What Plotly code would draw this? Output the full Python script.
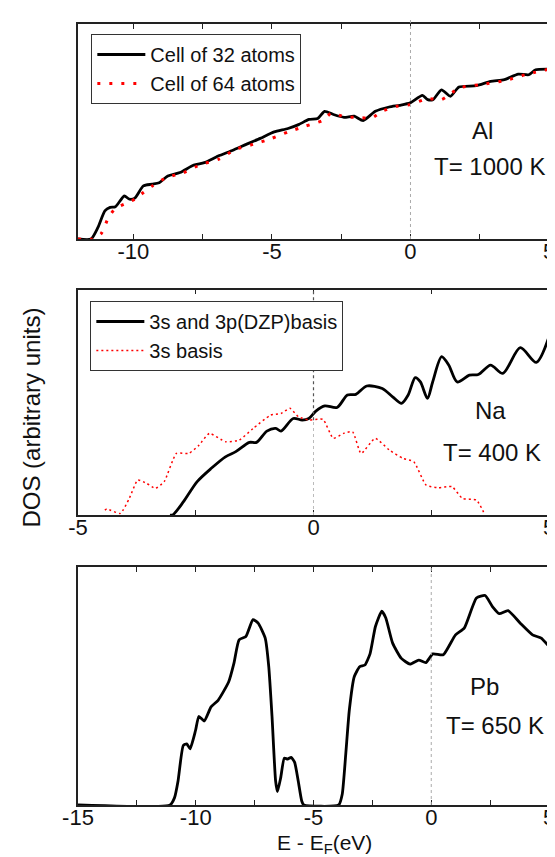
import plotly.graph_objects as go

# ---------------- data (arbitrary DOS units 0-100) -------------
al32_e = [-12.0, -11.53, -11.28, -11.03, -10.84, -10.65, -10.33, -10.14, -9.95, -9.64, -9.32, -9.07,
          -8.76, -8.32, -7.82, -7.44, -6.94, -6.43, -5.93, -5.42, -4.92, -4.42, -4.04, -3.66, -3.35,
          -3.1, -2.78, -2.4, -2.03, -1.71, -1.27, -0.77, -0.39, -0.01, 0.43, 0.62, 0.81, 1.12, 1.44,
          1.75, 2.38, 2.89, 3.39, 3.89, 4.27, 4.52, 5.0]
al32_dos = [0, 0, 5.4, 13.1, 14.7, 15.0, 20.0, 18.5, 19.0, 24.7, 25.5, 26.2,
            29.3, 30.9, 34.4, 35.5, 38.6, 41.2, 44.0, 46.8, 49.8, 51.4, 53.2, 55.6, 56.0,
            59.4, 57.9, 56.6, 57.1, 55.1, 59.4, 61.4, 62.2, 63.3, 66.8, 64.8, 64.8, 69.4, 66.4,
            70.7, 71.3, 73.3, 74.1, 76.7, 76.4, 78.7, 79.0]

al64_e = [-12.0, -11.47, -11.16, -10.9, -10.65, -10.33, -9.95, -9.64, -9.32, -8.82, -8.19, -7.56,
          -6.94, -6.31, -5.68, -5.05, -4.42, -3.79, -3.16, -2.85, -2.4, -1.9, -1.4, -1.02, -0.52,
          -0.01, 0.62, 1.12, 1.75, 2.51, 3.39, 4.14, 5.0]
al64_dos = [0, 0, 2.6, 10.0, 14.2, 16.2, 18.5, 21.6, 24.7, 28.5, 30.9, 34.7,
            37.0, 41.7, 44.0, 46.6, 49.8, 52.5, 55.2, 58.6, 56.8, 56.6, 56.3, 59.4, 61.7,
            62.5, 65.3, 64.8, 70.2, 71.8, 73.6, 76.4, 79.0]

na_dzp_e = [-3.05, -2.99, -2.76, -2.47, -2.17, -1.87, -1.65, -1.36, -1.21, -0.99, -0.8, -0.69, -0.43,
            -0.24, -0.1, 0.05, 0.24, 0.5, 0.72, 0.9, 1.13, 1.46, 1.68, 1.87, 2.01, 2.16, 2.27,
            2.42, 2.53, 2.72, 2.87, 3.05, 3.31, 3.5, 3.76, 4.02, 4.39, 4.73, 5.0]
na_dzp_dos = [0, 0, 5.9, 14.8, 20.7, 25.8, 28.1, 32.2, 32.2, 37.2, 38.4, 37.2, 42.8,
              42.1, 42.8, 46.1, 48.4, 47.7, 53.2, 53.5, 57.2, 56.1, 52.4, 49.5, 53.2, 60.9, 59.0,
              51.7, 59.0, 70.2, 66.5, 59.0, 62.0, 62.3, 66.5, 62.8, 74.2, 67.7, 79.0]

na_3s_e = [-4.43, -4.39, -4.1, -3.91, -3.73, -3.54, -3.36, -3.17, -2.91, -2.65, -2.43, -2.21, -1.87,
           -1.58, -1.28, -0.91, -0.69, -0.5, -0.32, -0.1, 0.2, 0.42, 0.64, 0.83, 1.01, 1.31, 1.61,
           1.9, 2.13, 2.39, 2.64, 2.94, 3.16, 3.46, 3.64]
na_3s_dos = [2.2, 2.7, 0.7, 7.4, 15.5, 14.0, 11.8, 14.8, 27.3, 27.3, 31.0, 36.2, 32.5,
             33.2, 38.4, 44.3, 45.0, 47.3, 43.6, 42.1, 42.4, 34.0, 36.2, 36.9, 27.3, 34.0, 28.8,
             25.1, 23.6, 13.3, 12.1, 12.6, 7.4, 6.6, 0.0]

pb_e = [-15.0, -11.09, -10.9, -10.75, -10.53, -10.38, -10.24, -10.01, -9.87, -9.64, -9.35, -9.05,
        -8.6, -8.38, -8.16, -7.87, -7.57, -7.35, -7.05, -6.9, -6.76, -6.61, -6.53, -6.39, -6.24,
        -6.1, -5.95, -5.8, -5.65, -5.5, -5.41, -3.93, -3.78, -3.63, -3.48, -3.27, -3.04, -2.82,
        -2.6, -2.37, -2.1, -1.93, -1.64, -1.27, -0.9, -0.53, -0.23, 0.07, 0.51, 1.03, 1.4, 1.92,
        2.29, 2.59, 2.89, 3.26, 3.78, 4.3, 4.67, 5.0]
pb_dos = [0, 0, 3.1, 10.2, 25.0, 25.7, 23.6, 31.3, 37.2, 35.3, 41.2, 44.0,
          51.8, 59.5, 69.4, 70.8, 77.9, 76.4, 70.1, 58.1, 37.0, 10.2, 5.6, 11.6, 19.7,
          19.3, 20.0, 17.9, 10.2, 1.7, 0, 0, 4.5, 21.4, 39.8, 53.9, 58.1, 58.8,
          63.5, 75.0, 81.4, 78.6, 68.0, 61.6, 59.2, 60.9, 59.8, 63.5, 63.1, 71.5, 74.3, 87.0,
          88.0, 83.5, 80.4, 81.7, 76.4, 71.5, 70.1, 66.6]

# labelled ticks and unlabelled (minor) ticks per panel
major_1, labels_1, minor_1 = [-10, -5, 0, 5], ["-10", "-5", "0", "5"], [-7.5, -2.5, 2.5]
major_2, labels_2, minor_2 = [-5, 0, 5], ["-5", "0", "5"], [-2.5, 2.5]
major_3, labels_3, minor_3 = [-15, -10, -5, 0, 5], ["-15", "-10", "-5", "0", "5"], [-12.5, -7.5, -2.5, 2.5]

# ---------------- layout helpers ----------------
W, H = 555, 857
L, R, T, B = 70, 8, 16, 60
PW, PH = W - L - R, H - T - B


def px(xp):
    return (xp - L) / PW


def py(yp):
    return (H - B - yp) / PH


FONT = "Liberation Sans, Arial, sans-serif"
AX = "#222222"
TXT = "#111111"

fig = go.Figure()

fig.add_trace(go.Scatter(x=al32_e, y=al32_dos, mode="lines", name="Cell of 32 atoms",
                         line=dict(color="black", width=2.8, shape="spline", smoothing=0.6),
                         xaxis="x", yaxis="y", legend="legend"))
fig.add_trace(go.Scatter(x=al64_e, y=al64_dos, mode="lines", name="Cell of 64 atoms",
                         line=dict(color="red", width=3, dash="3px,9px", shape="spline", smoothing=0.6),
                         xaxis="x", yaxis="y", legend="legend"))

fig.add_trace(go.Scatter(x=na_dzp_e, y=na_dzp_dos, mode="lines", name="3s and 3p(DZP)basis",
                         line=dict(color="black", width=2.8, shape="spline", smoothing=0.8),
                         xaxis="x2", yaxis="y2", legend="legend2"))
fig.add_trace(go.Scatter(x=na_3s_e, y=na_3s_dos, mode="lines", name="3s basis",
                         line=dict(color="red", width=1.5, dash="2px,3px", shape="spline", smoothing=0.5),
                         xaxis="x2", yaxis="y2", legend="legend2"))

fig.add_trace(go.Scatter(x=pb_e, y=pb_dos, mode="lines", showlegend=False,
                         line=dict(color="black", width=2.8, shape="spline", smoothing=0.5),
                         xaxis="x3", yaxis="y3"))

domains = [(py(231), py(16)), (py(507), py(281.5)), (py(797), py(559))]
xranges = [[-12, 5], [-5, 5], [-15, 5]]
ticks = [(major_1, labels_1, minor_1), (major_2, labels_2, minor_2), (major_3, labels_3, minor_3)]

layout = dict(
    width=W, height=H,
    margin=dict(l=L, r=R, t=T, b=B),
    paper_bgcolor="white", plot_bgcolor="white",
    font=dict(family=FONT, color=TXT),
)
for i in range(3):
    s = "" if i == 0 else str(i + 1)
    layout["xaxis" + s] = dict(
        domain=[0, 1], range=xranges[i], anchor="y" + s,
        showline=True, linecolor=AX, linewidth=1.5, mirror="ticks",
        ticks="inside", ticklen=5, tickwidth=1.2, tickcolor=AX,
        tickvals=ticks[i][0], ticktext=ticks[i][1],
        minor=dict(tickvals=ticks[i][2], ticks="inside", ticklen=5, tickwidth=1.2,
                   tickcolor=AX, showgrid=False),
        tickfont=dict(size=22, family=FONT, color=TXT),
        showgrid=False, zeroline=False, ticklabelstandoff=-8,
    )
    layout["yaxis" + s] = dict(
        domain=list(domains[i]), range=[0, 100], anchor="x" + s,
        showline=True, linecolor=AX, linewidth=1.5, mirror=True,
        ticks="", showticklabels=False, showgrid=False, zeroline=False,
    )

layout["legend"] = dict(x=px(83.5), y=py(26), xanchor="left", yanchor="top",
                        bordercolor="#333333", borderwidth=1, bgcolor="white",
                        font=dict(size=20, family=FONT, color=TXT),
                        itemwidth=48, tracegroupgap=0)
layout["legend2"] = dict(x=px(82.5), y=py(293), xanchor="left", yanchor="top",
                         bordercolor="#333333", borderwidth=1, bgcolor="white",
                         font=dict(size=20, family=FONT, color=TXT),
                         itemwidth=48, tracegroupgap=0)

fig.update_layout(**layout)

# Fermi-level dotted lines
fig.add_shape(type="line", xref="x", yref="y domain", x0=0, x1=0, y0=0, y1=1.02,
              line=dict(color="#aaaaaa", width=1, dash="dot"))
fig.add_shape(type="line", xref="x2", yref="y2 domain", x0=0, x1=0, y0=0, y1=0.42,
              line=dict(color="#bbbbbb", width=1, dash="dot"))
fig.add_shape(type="line", xref="x2", yref="y2 domain", x0=0, x1=0, y0=0.42, y1=1,
              line=dict(color="#555555", width=1.2, dash="dot"))
fig.add_shape(type="line", xref="x3", yref="y3 domain", x0=0, x1=0, y0=0, y1=1,
              line=dict(color="#aaaaaa", width=1, dash="dot"))

ann = []


def add_text(text, xp, yp, size=24, angle=0):
    ann.append(dict(text=text, x=px(xp), y=py(yp), xref="paper", yref="paper",
                    xanchor="center", yanchor="middle", showarrow=False, textangle=angle,
                    font=dict(size=size, family=FONT, color=TXT)))


add_text("Al", 480, 122)
add_text("T= 1000 K", 487, 159)
add_text("Na", 488, 403)
add_text("T= 400 K", 489, 445)
add_text("Pb", 482, 678)
add_text("T= 650 K", 492, 717)
add_text("DOS (arbitrary units)", 23, 410, size=24, angle=-90)
add_text("E - E<sub>F</sub>(eV)", 320, 836, size=21)
fig.update_layout(annotations=ann)

fig.write_html("out.html")
